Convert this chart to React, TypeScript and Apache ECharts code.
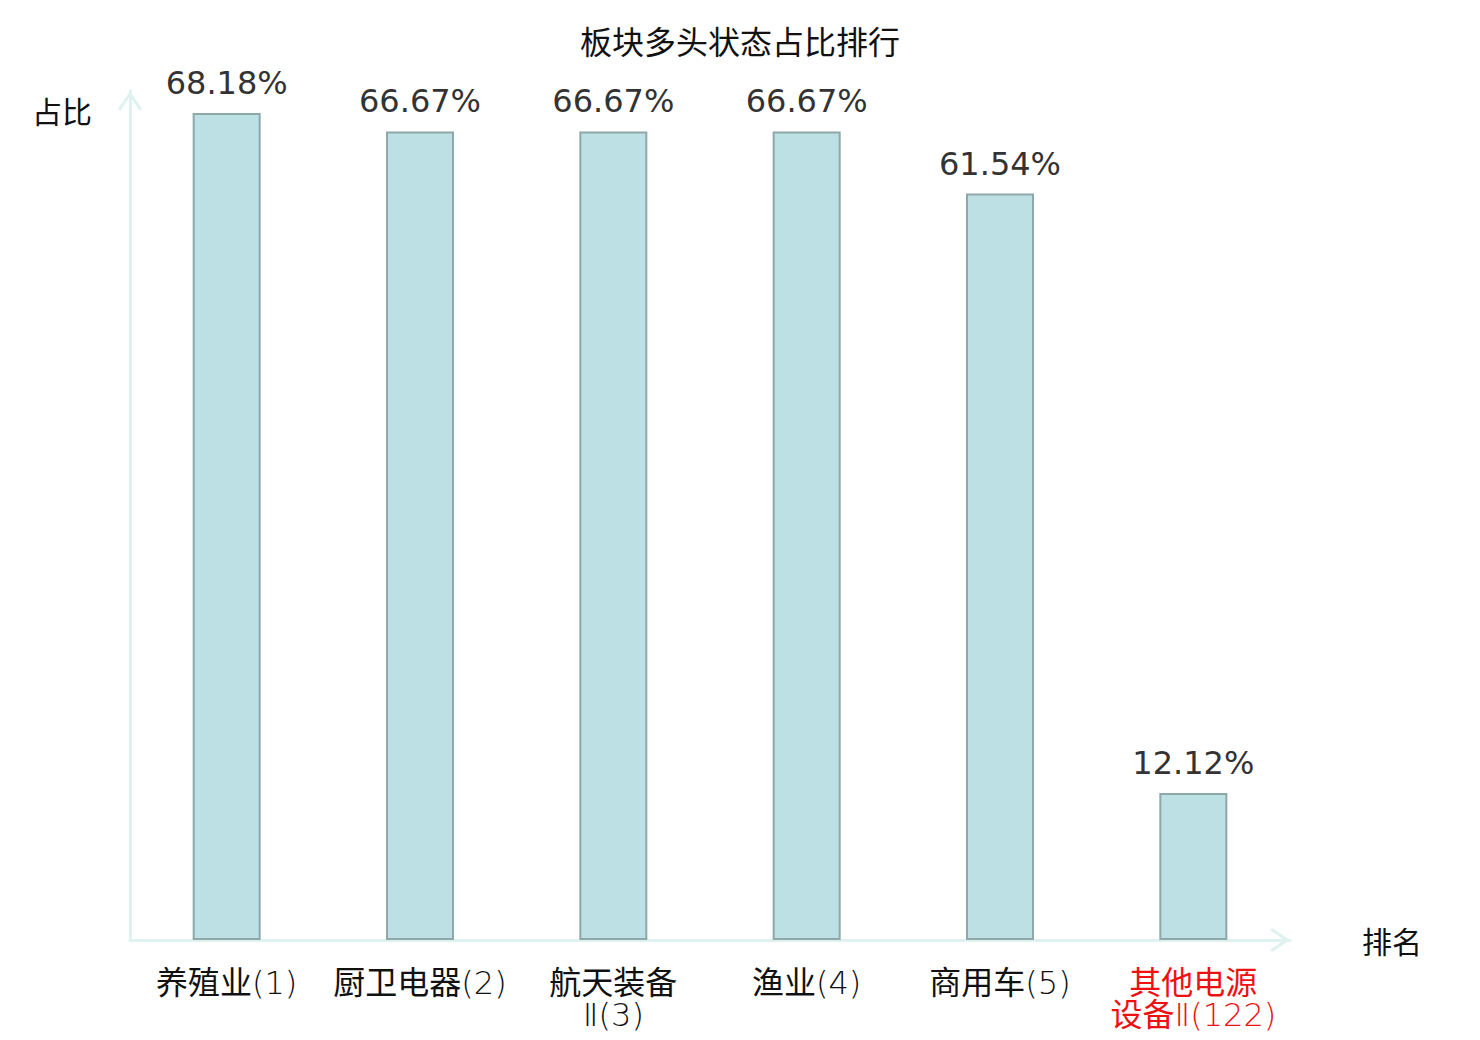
import React, { useEffect, useRef } from "react";
import * as echarts from "echarts";

const titleText = "板块多头状态占比排行";
const categories = ["养殖业(1)", "厨卫电器(2)", "航天装备Ⅱ(3)", "渔业(4)", "商用车(5)", "其他电源设备Ⅱ(122)"];
const values = [68.18, 66.67, 66.67, 66.67, 61.54, 12.12];
const highlightIndex = [5];
const yAxisName = "占比";
const xAxisName = "排名";

const ARROW = "path://M0,17.5 L12,0 L24,17.5 L21.6,19.6 L12,5.4 L2.4,19.6 Z";
const CAT_FONT = "'DejaVu Sans Light', 'DejaVu Sans ExtraLight', 'Noto Sans CJK SC'";

export default function App() {
  const ref = useRef<HTMLDivElement>(null);
  useEffect(() => {
    if (!ref.current) return;
    const chart = echarts.init(ref.current, undefined, { renderer: "svg" });
    const axisColor = "#dff2f0";
    chart.setOption({
      animation: false,
      backgroundColor: "#ffffff",
      title: {
        text: titleText,
        left: "center",
        top: 19,
        textStyle: { fontSize: 32, fontWeight: "normal", color: "#111", fontFamily: "Noto Sans CJK SC" },
      },
      grid: { left: 130, right: 190, top: 91, bottom: 100, containLabel: false },
      xAxis: {
        type: "category",
        data: categories.map((c, i) =>
          highlightIndex.includes(i) ? { value: c, textStyle: { color: "#ee1111" } } : c
        ),
        name: xAxisName,
        nameLocation: "end",
        nameGap: 72,
        nameTextStyle: { fontSize: 30, color: "#111", fontFamily: "Noto Sans CJK SC", padding: [4, 0, 0, 0] },
        axisLine: {
          show: true,
          lineStyle: { color: axisColor, width: 3 },
          symbol: ["none", ARROW],
          symbolSize: [24, 20],
          symbolOffset: [0, -10],
        },
        axisTick: { show: false },
        axisLabel: {
          interval: 0,
          margin: 27,
          fontSize: 32,
          lineHeight: 32,
          color: "#111",
          fontFamily: CAT_FONT,
          formatter: (v: string) => (v.length > 7 ? v.slice(0, 4) + "\n" + v.slice(4) : v),
        },
        splitLine: { show: false },
      },
      yAxis: {
        type: "value",
        min: 0,
        max: 70,
        name: yAxisName,
        nameLocation: "end",
        nameGap: -4,
        nameTextStyle: {
          fontSize: 30,
          color: "#111",
          fontFamily: "Noto Sans CJK SC",
          align: "right",
          verticalAlign: "top",
          padding: [0, 38, 0, 0],
        },
        axisLine: {
          show: true,
          lineStyle: { color: axisColor, width: 3 },
          symbol: ["none", ARROW],
          symbolSize: [24, 20],
          symbolOffset: [0, -10],
        },
        axisTick: { show: false },
        axisLabel: { show: false },
        splitLine: { show: false },
      },
      series: [
        {
          type: "bar",
          data: values,
          barWidth: 68,
          itemStyle: { color: "#bce0e3", borderColor: "#8ea8aa", borderWidth: 2 },
          label: {
            show: true,
            position: "top",
            distance: 14,
            fontSize: 32,
            color: "#333",
            fontFamily: "DejaVu Sans",
            formatter: (p: any) => p.value.toFixed(2) + "%",
          },
        },
      ],
    });
    return () => chart.dispose();
  }, []);
  return (
    <div
      ref={ref}
      style={{ position: "fixed", left: 0, top: 0, width: 1480, height: 1040, background: "#fff" }}
    />
  );
}
